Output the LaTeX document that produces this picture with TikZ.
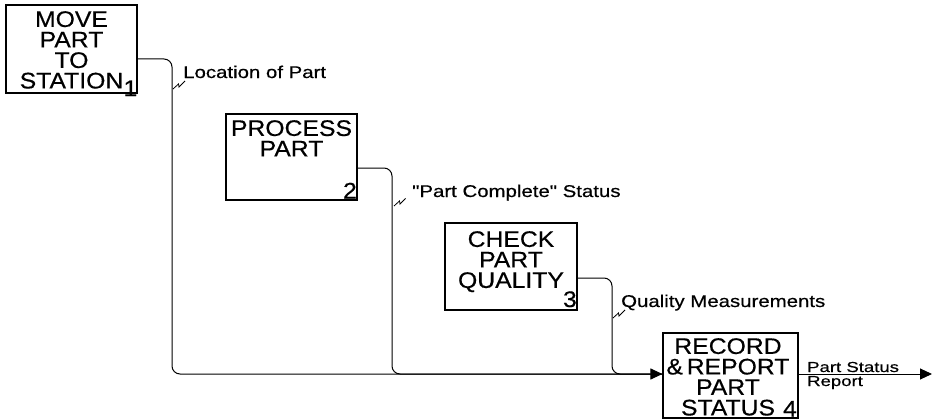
\documentclass[tikz,border=0pt]{standalone}
\usepackage{fontspec}
\setmainfont{Liberation Sans}
\newfontfamily\boxfont[FakeStretch=1.1,FakeBold=0.5]{Liberation Sans}
\newfontfamily\lblfont[FakeStretch=1.2,FakeBold=0.5]{Liberation Sans}
\newfontfamily\outfont[FakeStretch=1.28,FakeBold=0.5]{Liberation Sans}
\usetikzlibrary{arrows.meta}
\begin{document}
\begin{tikzpicture}[x=1pt,y=-1pt]
\useasboundingbox (0,0) rectangle (938,420);
\tikzset{
  fn/.style={draw, line width=1.1pt, inner sep=0pt},
  btext/.style={font=\boxfont\fontsize{22.5}{20.5}\selectfont, align=center, inner sep=0pt, anchor=north},
  num/.style={font=\boxfont\fontsize{22.5}{20.5}\selectfont, inner sep=0pt, anchor=base east},
  lbl/.style={font=\lblfont\fontsize{17}{17}\selectfont, inner sep=0pt, anchor=base west},
  olbl/.style={font=\outfont\fontsize{14.5}{14.5}\selectfont, inner sep=0pt, anchor=base west},
  flow/.style={line width=1pt, rounded corners=8pt},
  sq/.style={line width=0.8pt},
  tip/.style={-{Triangle[length=12pt,width=11pt]}},
}
% function boxes
\node[fn, minimum width=131pt, minimum height=88pt] (b1) at (71.5,49) {};
\node[fn, minimum width=131pt, minimum height=86pt] (b2) at (291.5,157) {};
\node[fn, minimum width=132pt, minimum height=87pt] (b3) at (511,266.5) {};
\node[fn, minimum width=135pt, minimum height=85pt] (b4) at (730.5,375.5) {};
% box texts
\node[btext] (t1) at (71.5,11) {MOVE\\PART\\TO\\STATION};
\node[btext] (t2) at (291.5,120) {PROCESS\\PART};
\node[btext] (t3) at (511,231) {CHECK\\PART\\QUALITY};
\node[btext] (t4) at (728,338) {RECORD\\\&\,REPORT\\PART\\STATUS};
\node[num] (n1) at (137.5,96) {1};
\node[num] (n2) at (357,198.5) {2};
\node[num] (n3) at (577,307) {3};
\node[num] (n4) at (797,416.5) {4};
% connectors
\coordinate (in4) at ([yshift=1.5pt]b4.west);
\coordinate (out) at (932,374);
\draw[flow] ([yshift=-11pt]b2.east) -| (392,374) -- (in4);
\draw[flow] ([yshift=-11.5pt]b3.east) -| (612,374) -- (in4);
\draw[flow,tip] ([yshift=-10pt]b1.east) -| (172,374) -- (in4);
\draw[flow,tip] ([yshift=1.5pt]b4.east) -- (out);
% labels
\node[lbl] (l1) at (183,78) {Location of Part};
\node[lbl] (l2) at (412,197) {"Part Complete" Status};
\node[lbl] (l3) at (621,307) {Quality Measurements};
\node[olbl] (l4) at (807,372) {Part Status};
\node[olbl] (l5) at (807,386) {Report};
% squiggles
\coordinate (s1) at (173,89);
\coordinate (s2) at (394,206);
\coordinate (s3) at (613,318);
\draw[sq] (s1) -- ++(5.5,-5) -- ++(0.5,3) -- ++(6,-6);
\draw[sq] (s2) -- ++(5.5,-5) -- ++(0.5,3) -- ++(5.5,-5.5);
\draw[sq] (s3) -- ++(5.5,-5) -- ++(0.5,3) -- ++(6,-6);
\end{tikzpicture}
\end{document}
